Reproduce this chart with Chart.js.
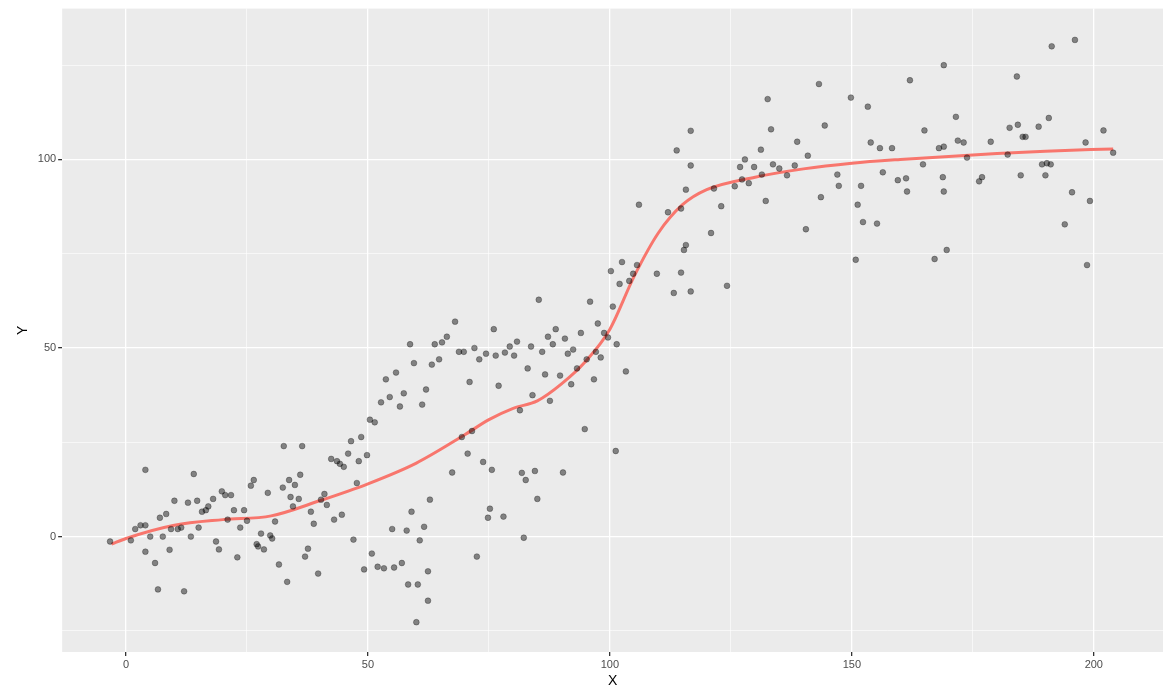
<!DOCTYPE html>
<html>
<head>
<meta charset="utf-8">
<script src="https://cdn.jsdelivr.net/npm/chart.js@4/dist/chart.umd.min.js"></script>
<style>
  html, body { margin: 0; padding: 0; background: #fff; }
  #wrap { width: 1172px; height: 695px; }
</style>
</head>
<body>
<div id="wrap"><canvas id="chart"></canvas></div>
<script>
const points = [
  [-3.3,-1.3],[1,-1],[1.9,2],[3,3],[4,3],[4,17.7],[4,-4],[5,0],[6,-7],[6.6,-14],[7,5],[7.6,0],[8.3,6],[9,-3.5],[9.3,2],
  [10,9.5],[10.7,2],[11.4,2.4],[12,-14.5],[12.8,9],[13.4,0],[14,16.6],[14.7,9.5],[15,2.4],[15.7,6.6],[16.5,7],[17,8],
  [18,10],[18.6,-1.3],[19.2,-3.4],[19.8,12],[20.5,11],[21,4.5],[21.7,11],[22.3,7],[23,-5.5],[23.6,2.4],[24.4,7],[25,4.2],
  [25.8,13.5],[26.4,15],[27,-2],[27.3,-2.6],[27.9,0.8],[28.5,-3.4],[29.3,11.6],[29.8,0.3],[30.2,-0.5],[30.8,4],[31.6,-7.4],
  [32.4,13],[32.6,24],[33.3,-12],[33.7,15],[34,10.5],[34.5,8],[34.9,13.7],[35.7,10],[36,16.4],[36.4,24],[37,-5.3],[37.6,-3.2],
  [38.2,6.6],[38.8,3.4],[39.7,-9.8],[40.3,9.8],[41,11.3],[41.5,8.4],[42.4,20.6],[43,4.5],[43.6,20],[44.2,19.3],[44.6,5.8],
  [45,18.5],[45.9,22],[46.5,25.3],[47,-0.8],[47.7,14.2],[48.1,20],[48.6,26.4],[49.2,-8.7],[49.8,21.6],
  [50.4,31],[50.8,-4.5],[51.4,30.3],[52,-8],[52.7,35.6],[53.3,-8.4],[53.7,41.7],[54.5,37],[55,2],[55.4,-8.2],[55.8,43.5],
  [56.6,34.5],[57,-7],[57.4,38],[58,1.6],[58.3,-12.7],[58.7,51],[59,6.6],[59.5,46],[60,-22.7],[60.3,-12.7],[60.7,-1],
  [61.2,35],[61.6,2.6],[62,39],[62.4,-17],[62.4,-9.2],[62.8,9.8],[63.2,45.6],[63.8,51],[64.7,47],[65.3,51.5],[66.3,53],
  [67.4,17],[68,57],[68.8,49],[69.4,26.4],[69.8,49],[70.6,22],[71,41],[71.5,28],[72,50],[72.5,-5.3],[73,47],[73.8,19.8],
  [74.4,48.5],[74.8,5],
  [75.2,7.4],[75.6,17.7],[76,55],[76.4,48],[77,40],[78,5.3],[78.3,48.8],[79.3,50.4],[80.2,48],[80.8,51.7],[81.4,33.5],
  [81.8,16.9],[82.2,-0.3],[82.6,15],[83,44.6],[83.7,50.4],[84,37.5],[84.5,17.4],[85,10],[85.3,62.8],[86,49],[86.6,43],
  [87.2,53],[87.6,36],[88.2,51],[88.8,55],[89.7,42.7],[90.3,17],[90.7,52.5],[91.3,48.5],[92,40.4],[92.4,49.6],[93.2,44.6],
  [94,54],[94.8,28.5],[95.2,47],[95.9,62.3],[96.7,41.7],[97.1,49],[97.5,56.5],[98.1,47.5],[98.8,54],[99.6,52.8],
  [100.2,70.4],[100.6,61],[101.2,22.7],[101.4,51],[102,67],[102.5,72.8],[103.3,43.8],[104,67.8],[104.8,69.7],[105.6,72],[106,88],
  [109.7,69.7],[112,86],[113.2,64.6],[113.8,102.4],[114.7,87],[114.7,70],[115.3,76],[115.7,77.3],[115.7,92],[116.7,107.6],
  [116.7,98.4],[116.7,65],[120.9,80.5],[121.5,92.3],[123,87.6],[124.2,66.5],[125.8,92.9],[126.9,98],[127.3,94.7],[127.9,100],
  [128.7,93.7],[129.8,98],[131.2,102.6],[131.4,96],[132.2,89],[132.6,116],[133.3,108],[133.7,98.7],[135,97.6],[136.6,95.8],
  [138.2,98.4],[138.7,104.7],[140.5,81.5],[140.9,101],[143.2,120],[143.6,90],[144.4,109],[147,96],[147.3,93],[149.8,116.4],
  [150.8,73.4],[151.2,88],[151.9,93],[152.3,83.4],[153.3,114],[153.9,104.5],[155.2,83],[155.8,103],[156.4,96.6],[158.3,103],
  [159.5,94.5],[161.2,95],[161.4,91.5],[162,121],[164.7,98.7],[165,107.7],[167.1,73.6],[168,103],[169,103.4],[168.8,95.3],
  [169,91.5],[169,125],[169.6,76],[171.5,111.3],[171.9,105],[173.1,104.5],[173.8,100.5],[176.3,94.2],[176.9,95.3],[178.7,104.7],
  [182.2,101.3],[182.6,108.4],[184.1,122],[184.3,109.2],[184.9,95.8],[185.3,106],[185.9,106],[188.6,108.7],[189.3,98.7],
  [190,95.8],[190.3,99],[190.7,111],[191.1,98.7],[191.3,130],[194,82.8],[195.5,91.3],[196.1,131.7],[198.3,104.5],[198.6,72],
  [199.2,89],[202,107.7],[204,101.8]
];
const smoothX = [-3, 0, 10, 20, 30, 40, 50, 60, 70, 75, 80, 85, 90, 95, 100, 105, 110, 115, 120, 130, 140, 150, 160, 170, 180, 190, 204];
const smoothY = [-2, -0.5, 3, 4.5, 5.5, 9.5, 14, 19.5, 27, 31, 34, 36, 40.5, 46.5, 55, 69, 80.5, 88, 92, 95.3, 97.5, 99, 100, 100.8, 101.6, 102.2, 102.8];
const xTicks = [0, 25, 50, 75, 100, 125, 150, 175, 200];
const yTicks = [-25, 0, 25, 50, 75, 100, 125];

const panelBg = {
  id: 'panelBg',
  beforeDraw(chart) {
    const a = chart.chartArea, c = chart.ctx;
    c.save();
    c.fillStyle = '#EBEBEB';
    c.fillRect(a.left, a.top, a.right - a.left, a.bottom - a.top);
    c.restore();
  }
};

function gridOpts() {
  return {
    color: '#FFFFFF',
    lineWidth: ctx => (ctx.tick && ctx.tick.value % 50 === 0) ? 1.3 : 0.6,
    tickColor: ctx => (ctx.tick && ctx.tick.value % 50 === 0) ? '#333333' : 'rgba(0,0,0,0)',
    tickLength: 4,
    drawTicks: true
  };
}
const tickFont = { family: 'Liberation Sans', size: 11 };
const labelCb = v => (v % 50 === 0 ? String(v) : '');

new Chart(document.getElementById('chart'), {
  data: {
    datasets: [
      {
        type: 'scatter',
        data: points.map(p => ({ x: p[0], y: p[1] })),
        backgroundColor: 'rgba(0,0,0,0.45)',
        borderColor: 'rgba(0,0,0,0.55)',
        borderWidth: 0.5,
        pointRadius: 2.9
      },
      {
        type: 'line',
        data: smoothX.map((x, i) => ({ x, y: smoothY[i] })),
        borderColor: '#F8766D',
        borderWidth: 3,
        pointRadius: 0,
        cubicInterpolationMode: 'monotone',
        fill: false
      }
    ]
  },
  options: {
    responsive: true,
    maintainAspectRatio: false,
    animation: false,
    layout: { padding: { top: 2, right: 9, left: 15, bottom: 5 } },
    plugins: { legend: { display: false }, tooltip: { enabled: false } },
    scales: {
      x: {
        type: 'linear', min: -13.2, max: 214.3,
        afterBuildTicks: s => { s.ticks = xTicks.map(v => ({ value: v })); },
        grid: gridOpts(), border: { display: false },
        ticks: { color: '#4D4D4D', font: tickFont, padding: 2, callback: labelCb, autoSkip: false, maxRotation: 0 },
        title: { display: true, text: 'X', color: '#000', font: { family: 'Liberation Sans', size: 14 }, padding: { top: 0, bottom: 0 } }
      },
      y: {
        type: 'linear', min: -30.6, max: 140,
        afterBuildTicks: s => { s.ticks = yTicks.map(v => ({ value: v })); },
        grid: gridOpts(), border: { display: false },
        ticks: { color: '#4D4D4D', font: tickFont, padding: 2, callback: labelCb, autoSkip: false },
        title: { display: true, text: 'Y', color: '#000', font: { family: 'Liberation Sans', size: 14 }, padding: { top: 0, bottom: 4 } }
      }
    }
  },
  plugins: [panelBg]
});
</script>
</body>
</html>
